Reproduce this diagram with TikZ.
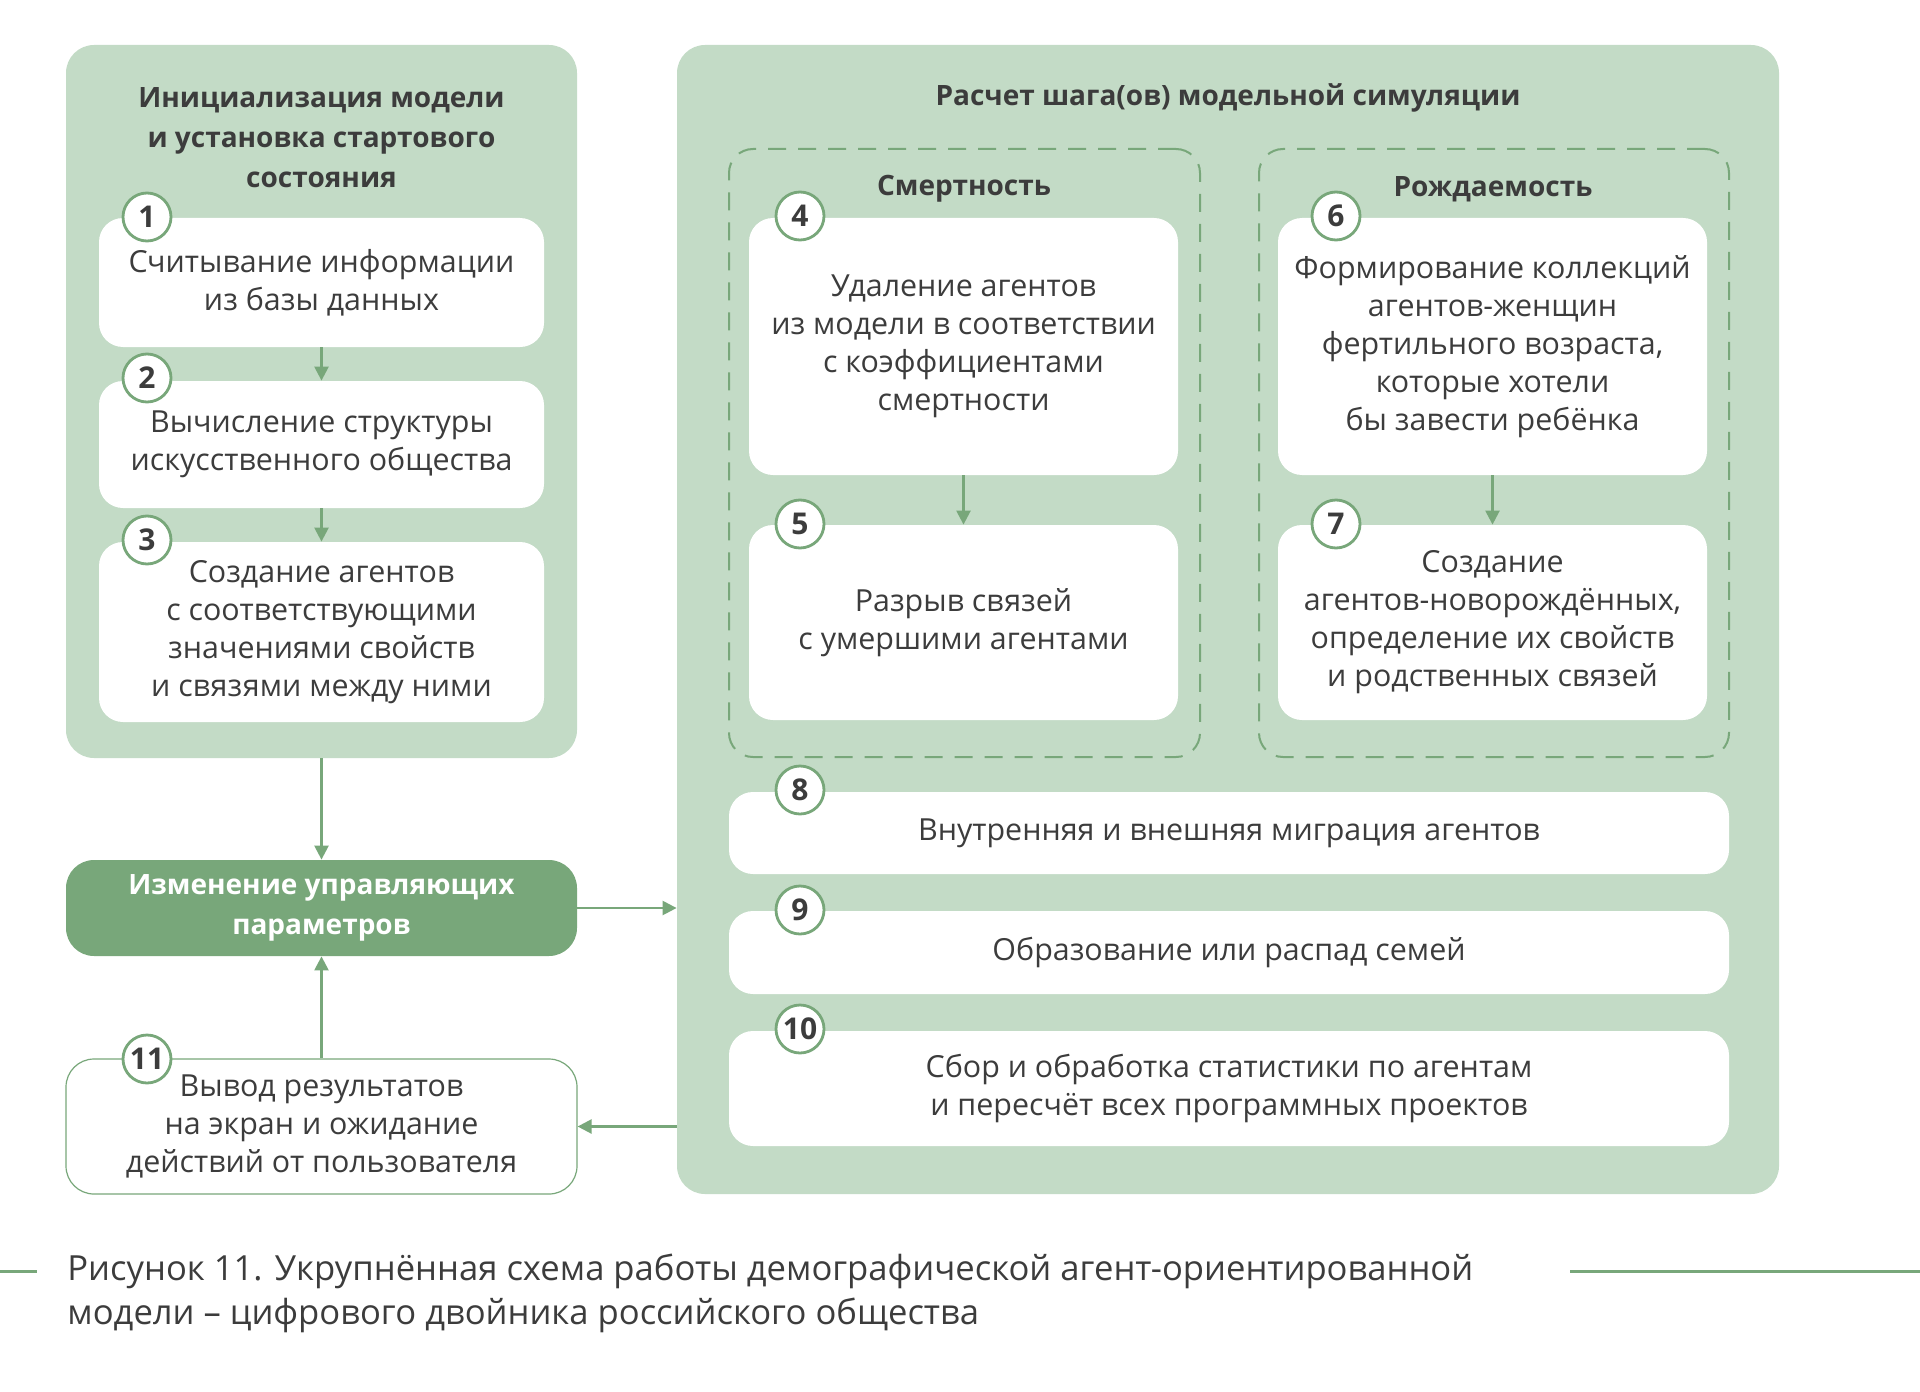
\documentclass[tikz,border=0pt]{standalone}
\usepackage{fontspec}
\setmainfont{Open Sans}
\usetikzlibrary{arrows.meta}
\definecolor{panel}{HTML}{C3DBC6}
\definecolor{dgreen}{HTML}{78A77A}
\definecolor{txt}{HTML}{3C3C3C}
\begin{document}
\begin{tikzpicture}[x=0.5pt,y=-0.5pt,
  panelbox/.style={fill=panel, rounded corners=14pt, inner sep=0pt},
  wbox/.style={fill=white, rounded corners=12pt, inner sep=0pt, align=center, text=txt, font=\fontsize{15.2}{19}\selectfont},
  numc/.style={circle, draw=dgreen, line width=1.4pt, fill=white, minimum size=24pt, inner sep=0pt, font=\bfseries\fontsize{15}{15}\selectfont, text=txt},
  dashbox/.style={draw=dgreen, dash pattern=on 9pt off 6pt, line width=1pt, rounded corners=12pt, inner sep=0pt},
  ttl/.style={align=center, text=txt, font=\bfseries\fontsize{14}{20}\selectfont},
  arr/.style={draw=dgreen, line width=1.2pt, -{Triangle[width=7pt,length=7pt]}}
]
\useasboundingbox (0,0) rectangle (1920,1391);

% panels
\node[panelbox, minimum width=255.5pt, minimum height=356.5pt] (lp) at (321.5,401.5) {};
\node[panelbox, minimum width=551pt, minimum height=574.5pt] (rp) at (1228,619.5) {};
\node[dashbox, minimum width=235.5pt, minimum height=304pt] (dl) at (964.5,453) {};
\node[dashbox, minimum width=235pt, minimum height=304pt] (dr) at (1494,453) {};

% titles
\node[ttl] (tl) at (321.5,138) {Инициализация модели\\и установка стартового\\состояния};
\node[ttl] (tr) at (1228,98) {Расчет шага(ов) модельной симуляции};
\node[ttl] (tm) at (964,189) {Смертность};
\node[ttl] (tb) at (1493,189) {Рождаемость};

% left boxes
\node[wbox, minimum width=222.5pt, minimum height=64.5pt] (b1) at (321.5,282.5) {Считывание информации\\из базы данных};
\node[wbox, minimum width=222.5pt, minimum height=63.5pt] (b2) at (321.5,444.5) {Вычисление структуры\\искусственного общества};
\node[wbox, minimum width=222.5pt, minimum height=90pt] (b3) at (321.5,632) {Создание агентов\\с соответствующими\\значениями свойств\\и связями между ними};

% control box
\node[fill=dgreen, rounded corners=14pt, inner sep=0pt, minimum width=255.5pt, minimum height=48pt, align=center, text=white, font=\bfseries\fontsize{14}{20}\selectfont] (ctrl) at (321.5,908) {Изменение управляющих\\параметров};

% output box
\node[wbox, draw=dgreen, line width=0.6pt, rounded corners=14pt, minimum width=255.5pt, minimum height=67.5pt] (b11) at (321.5,1126.5) {Вывод результатов\\на экран и ожидание\\действий от пользователя};

% right boxes
\node[wbox, minimum width=214.5pt, minimum height=128.5pt] (b4) at (963.5,346.5) {Удаление агентов\\из модели в соответствии\\с коэффициентами\\смертности};
\node[wbox, minimum width=214.5pt, minimum height=97.5pt] (b5) at (963.5,622.5) {Разрыв связей\\с умершими агентами};
\node[wbox, minimum width=214.5pt, minimum height=128.5pt] (b6) at (1492.5,346.5) {Формирование коллекций\\агентов-женщин\\фертильного возраста,\\которые хотели\\бы завести ребёнка};
\node[wbox, minimum width=214.5pt, minimum height=97.5pt] (b7) at (1492.5,622.5) {Создание\\агентов-новорождённых,\\определение их свойств\\и родственных связей};
\node[wbox, minimum width=500pt, minimum height=41pt] (b8) at (1229,833) {Внутренняя и внешняя миграция агентов};
\node[wbox, minimum width=500pt, minimum height=41.5pt] (b9) at (1229,952.5) {Образование или распад семей};
\node[wbox, minimum width=500pt, minimum height=57.5pt] (b10) at (1229,1088.5) {Сбор и обработка статистики по агентам\\и пересчёт всех программных проектов};

% number circles
\node[numc] (c1) at (147,217) {1};
\node[numc] (c2) at (147,378) {2};
\node[numc] (c3) at (147,540) {3};
\node[numc] (c4) at (800,216) {4};
\node[numc] (c5) at (800,524) {5};
\node[numc] (c6) at (1336,216) {6};
\node[numc] (c7) at (1336,524) {7};
\node[numc] (c8) at (800,790) {8};
\node[numc] (c9) at (800,910) {9};
\node[numc] (c10) at (800,1029) {10};
\node[numc] (c11) at (147,1059) {11};

% arrows
\draw[arr] (b1) -- (b2);
\draw[arr] (b2) -- (b3);
\draw[arr] (b4) -- (b5);
\draw[arr] (b6) -- (b7);
\draw[arr] (lp.south) -- (ctrl.north);
\draw[arr] (ctrl.east) -- (ctrl.east -| rp.west);
\draw[arr] (b11.north) -- (ctrl.south);
\draw[arr] (rp.west |- b11.east) -- (b11.east);

% caption
\coordinate (cl1) at (0,1271);
\coordinate (cl2) at (37,1271);
\coordinate (cr1) at (1570,1271);
\coordinate (cr2) at (1920,1271);
\draw[dgreen, line width=1.5pt] (cl1) -- (cl2);
\draw[dgreen, line width=1.5pt] (cr1) -- (cr2);
\node[anchor=west, align=left, text=txt, font=\fontsize{17.3}{22}\selectfont, inner sep=0pt] (cap) at (67,1293) {Рисунок 11. Укрупнённая схема работы демографической агент-ориентированной\\модели – цифрового двойника российского общества};
\end{tikzpicture}
\end{document}
